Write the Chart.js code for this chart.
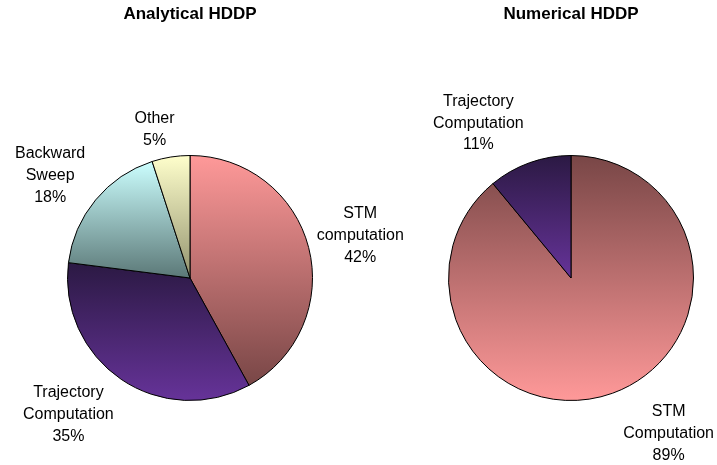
<!DOCTYPE html>
<html>
<head>
<meta charset="utf-8">
<script src="https://cdn.jsdelivr.net/npm/chart.js@4/dist/chart.umd.min.js"></script>
<style>
body { margin: 0; background: #fff; }
#wrap { position: relative; width: 717px; height: 465px; }
#wrap canvas { position: absolute; left: 0; top: 0; }
</style>
</head>
<body>
<div id="wrap">
  <canvas id="leftChart" width="717" height="465"></canvas>
  <canvas id="rightChart" width="717" height="465"></canvas>
</div>
<script>
// data
const analyticalLabels = [['STM', 'computation'], ['Trajectory', 'Computation'], ['Backward', 'Sweep'], ['Other']];
const analyticalValues = [42, 35, 18, 5];
const numericalLabels = [['STM', 'Computation'], ['Trajectory', 'Computation']];
const numericalValues = [89, 11];

// gradient colours, top of slice -> bottom of slice
const analyticalTop = ['#ff9999', '#2b1943', '#ccffff', '#ffffcc'];
const analyticalBottom = ['#784646', '#663399', '#5b7877', '#93936f'];
const numericalTop = ['#784646', '#2b1943'];
const numericalBottom = ['#ff9999', '#663399'];

// small shifts of the outside labels
const analyticalNudge = [[-10, 1], [-16, -8], [-3, 9], [-10, 14]];
const numericalNudge = [[34, -9], [-29, 10]];

const FONT = 'Arial, "Liberation Sans", sans-serif';

function sliceGradient(ctx, tops, bottoms) {
    if (ctx.type !== 'data') return tops[0];
    const i = ctx.dataIndex;
    const chart = ctx.chart;
    const area = chart.chartArea;
    if (!area) return tops[i];
    const data = ctx.dataset.data;
    const total = data.reduce((a, b) => a + b, 0);
    let before = 0;
    for (let k = 0; k < i; k++) before += data[k];
    const a0 = -Math.PI / 2 + before / total * 2 * Math.PI;
    const a1 = a0 + data[i] / total * 2 * Math.PI;
    const cx = (area.left + area.right) / 2;
    const cy = (area.top + area.bottom) / 2;
    const r = Math.min(area.width, area.height) / 2;
    const ys = [cy, cy + r * Math.sin(a0), cy + r * Math.sin(a1)];
    [-Math.PI / 2, Math.PI / 2, 3 * Math.PI / 2].forEach(k => {
        if (k >= a0 && k <= a1) ys.push(cy + r * Math.sin(k));
    });
    const g = chart.ctx.createLinearGradient(0, Math.min(...ys), 0, Math.max(...ys));
    g.addColorStop(0, tops[i]);
    g.addColorStop(1, bottoms[i]);
    return g;
}

const sliceLabels = {
    id: 'sliceLabels',
    afterDatasetsDraw(chart, args, opts) {
        const c = chart.ctx;
        const meta = chart.getDatasetMeta(0);
        const data = chart.data.datasets[0].data;
        const total = data.reduce((a, b) => a + b, 0);
        c.save();
        c.font = '16px ' + FONT;
        c.fillStyle = '#000';
        c.textAlign = 'center';
        c.textBaseline = 'middle';
        meta.data.forEach((arc, i) => {
            const lines = chart.data.labels[i].concat(Math.round(data[i] / total * 100) + '%');
            const mid = (arc.startAngle + arc.endAngle) / 2;
            const dx = Math.cos(mid), dy = Math.sin(mid);
            const w = Math.max(...lines.map(l => c.measureText(l).width));
            const h = lines.length * opts.lineHeight;
            const d = arc.outerRadius + opts.gap;
            const x = arc.x + dx * d + dx * w / 2 + opts.nudge[i][0];
            const y = arc.y + dy * d + dy * h / 2 + opts.nudge[i][1];
            lines.forEach((l, j) => {
                c.fillText(l, x, y + (j - (lines.length - 1) / 2) * opts.lineHeight);
            });
        });
        c.restore();
    }
};

function makePie(id, title, labels, values, tops, bottoms, padLeft, padRight, nudge) {
    return new Chart(document.getElementById(id), {
        type: 'pie',
        data: {
            labels: labels,
            datasets: [{
                data: values,
                backgroundColor: ctx => sliceGradient(ctx, tops, bottoms),
                borderColor: '#000',
                borderWidth: 1
            }]
        },
        options: {
            responsive: false,
            animation: false,
            events: [],
            layout: { padding: { left: padLeft, right: padRight, top: 0, bottom: 64 } },
            plugins: {
                legend: { display: false },
                tooltip: { enabled: false },
                title: {
                    display: true,
                    text: title,
                    color: '#000',
                    font: { family: FONT, size: 17, weight: 'bold', lineHeight: 1.2 },
                    padding: { top: 4, bottom: 130.6 }
                },
                sliceLabels: { gap: 20, lineHeight: 21.7, nudge: nudge }
            }
        },
        plugins: [sliceLabels]
    });
}

makePie('leftChart', 'Analytical HDDP', analyticalLabels, analyticalValues,
    analyticalTop, analyticalBottom, 67, 404, analyticalNudge);
makePie('rightChart', 'Numerical HDDP', numericalLabels, numericalValues,
    numericalTop, numericalBottom, 448, 23, numericalNudge);
</script>
</body>
</html>
